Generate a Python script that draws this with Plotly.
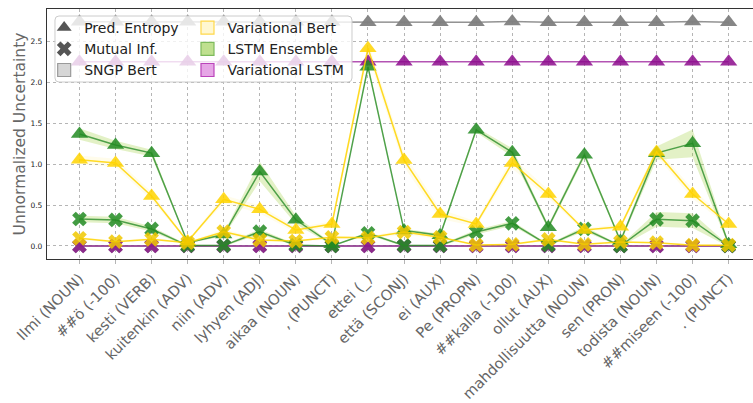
import numpy as np
import plotly.graph_objects as go

categories = ["Ilmi (NOUN)", "##ö (-100)", "kesti (VERB)", "kuitenkin (ADV)", "niin (ADV)",
              "lyhyen (ADJ)", "aikaa (NOUN)", ", (PUNCT)", "ettei (_)", "että (SCONJ)",
              "ei (AUX)", "Pe (PROPN)", "##kalla (-100)", "ollut (AUX)",
              "mahdollisuutta (NOUN)", "sen (PRON)", "todista (NOUN)", "##miseen (-100)", ". (PUNCT)"]

# SNGP Bert
sngp_entropy = [2.74, 2.74, 2.74, 2.74, 2.74, 2.74, 2.74, 2.74, 2.735, 2.735, 2.735, 2.735, 2.745,
                2.735, 2.735, 2.735, 2.735, 2.745, 2.735]
sngp_mi = [0.0, 0.0, 0.0, 0.0, 0.0, 0.0, 0.0, 0.0, 0.0, 0.0, 0.0, 0.0, 0.0, 0.0, 0.0, 0.0, 0.0, 0.0, 0.0]

# Variational LSTM
vlstm_entropy = [2.253, 2.253, 2.253, 2.253, 2.253, 2.253, 2.253, 2.253, 2.253, 2.253, 2.253, 2.253,
                 2.253, 2.253, 2.253, 2.253, 2.253, 2.253, 2.253]
vlstm_mi = [0.0, 0.0, 0.0, 0.0, 0.0, 0.0, 0.0, 0.0, 0.0, 0.0, 0.0, 0.0, 0.0, 0.0, 0.0, 0.0, 0.0, 0.0, 0.0]

# LSTM Ensemble
lstm_entropy = [1.37, 1.235, 1.135, 0.04, 0.14, 0.91, 0.32, 0.02, 2.19, 0.19, 0.13, 1.42, 1.145,
                0.23, 1.115, 0.06, 1.135, 1.255, 0.02]
lstm_entropy_std = [0.07, 0.05, 0.04, 0.01, 0.02, 0.12, 0.05, 0.01, 0.03, 0.02, 0.02, 0.03, 0.05,
                    0.03, 0.04, 0.02, 0.08, 0.17, 0.02]
lstm_mi = [0.33, 0.318, 0.208, 0.005, 0.005, 0.175, 0.01, 0.0, 0.155, 0.005, 0.005, 0.17, 0.277,
           0.01, 0.21, 0.0, 0.326, 0.31, 0.0]
lstm_mi_std = [0.04, 0.04, 0.03, 0.01, 0.01, 0.03, 0.01, 0.0, 0.02, 0.01, 0.01, 0.03, 0.03,
               0.01, 0.03, 0.01, 0.09, 0.09, 0.01]

# Variational Bert
bert_entropy = [1.055, 1.015, 0.611, 0.055, 0.571, 0.448, 0.196, 0.269, 2.417, 1.05, 0.391, 0.269,
                1.015, 0.636, 0.196, 0.236, 1.15, 0.636, 0.269]
bert_entropy_std = [0.05, 0.05, 0.05, 0.01, 0.05, 0.05, 0.03, 0.03, 0.08, 0.08, 0.06, 0.03, 0.07,
                    0.05, 0.02, 0.03, 0.05, 0.06, 0.03]
bert_mi = [0.094, 0.053, 0.082, 0.04, 0.175, 0.073, 0.06, 0.106, 0.1, 0.17, 0.106, 0.012, 0.02,
           0.08, 0.02, 0.05, 0.04, 0.01, 0.01]
bert_mi_std = [0.02, 0.01, 0.02, 0.01, 0.03, 0.02, 0.01, 0.02, 0.02, 0.03, 0.02, 0.01, 0.01,
               0.02, 0.01, 0.01, 0.01, 0.01, 0.01]

fig = go.Figure()


def add_band(mean, std, fillcolor):
    m = np.array(mean)
    s = np.array(std)
    up = m + s
    lo = m - s
    fig.add_trace(go.Scatter(
        x=categories + categories[::-1],
        y=list(up) + list(lo[::-1]),
        fill="toself", fillcolor=fillcolor, line=dict(width=0),
        mode="lines", hoverinfo="skip", showlegend=False))


def add_series(vals, symbol, size, mcolor, mopacity, lcolor):
    fig.add_trace(go.Scatter(
        x=categories, y=vals, mode="lines+markers",
        line=dict(color=lcolor, width=1.5),
        marker=dict(symbol=symbol, size=size, color=mcolor, opacity=mopacity,
                    line=dict(width=0)),
        showlegend=False))


GREEN_BAND = "rgba(154,205,50,0.28)"
YELLOW_BAND = "rgba(255,228,60,0.10)"

add_band(bert_entropy, bert_entropy_std, YELLOW_BAND)
add_band(bert_mi, bert_mi_std, YELLOW_BAND)
add_band(lstm_entropy, lstm_entropy_std, GREEN_BAND)
add_band(lstm_mi, lstm_mi_std, GREEN_BAND)

TRI = 15
XS = 13
# SNGP Bert (gray)
add_series(sngp_entropy, "triangle-up", TRI, "rgb(128,128,128)", 0.95, "rgba(128,128,128,0.85)")
add_series(sngp_mi, "x", XS, "rgb(128,128,128)", 0.9, "rgba(110,110,110,0.9)")
# Variational LSTM (purple)
add_series(vlstm_entropy, "triangle-up", TRI, "rgb(140,10,140)", 0.85, "rgba(160,40,160,0.8)")
add_series(vlstm_mi, "x", XS, "rgb(140,10,140)", 0.75, "rgba(160,40,160,0.8)")
# LSTM Ensemble (green)
add_series(lstm_entropy, "triangle-up", TRI, "rgb(34,139,34)", 0.85, "rgba(40,140,40,0.8)")
add_series(lstm_mi, "x", XS, "rgb(34,139,34)", 0.85, "rgba(40,140,40,0.8)")
# Variational Bert (gold)
add_series(bert_entropy, "triangle-up", TRI, "rgb(255,212,0)", 0.85, "rgba(255,212,0,0.85)")
add_series(bert_mi, "x", XS, "rgb(240,200,0)", 0.85, "rgba(255,212,0,0.85)")

# legend entries
legend_items = [
    ("Pred. Entropy", "triangle-up", "#555555", "#555555", "legend"),
    ("Mutual Inf.", "x", "#555555", "#555555", "legend"),
    ("SNGP Bert", "square", "#d6d6d6", "#9a9a9a", "legend"),
    ("Variational Bert", "square", "#fff7d1", "#ffd84a", "legend2"),
    ("LSTM Ensemble", "square", "#bfe08f", "#7dba5c", "legend2"),
    ("Variational LSTM", "square", "#e6a6e6", "#bb44bb", "legend2"),
]
for name, sym, fc, lc, lg in legend_items:
    fig.add_trace(go.Scatter(
        x=[None], y=[None], mode="markers", name=name, legend=lg,
        marker=dict(symbol=sym, size=13, color=fc, line=dict(color=lc, width=1.2 if sym == "square" else 0))))

# legend frame (rounded, semi-transparent)
x0, x1, y0, y1 = 0.0113, 0.432, 0.708, 0.972
rx, ry = 4 / 706, 4 / 250
path = (f"M {x0+rx},{y0} L {x1-rx},{y0} Q {x1},{y0} {x1},{y0+ry} L {x1},{y1-ry} "
        f"Q {x1},{y1} {x1-rx},{y1} L {x0+rx},{y1} Q {x0},{y1} {x0},{y1-ry} "
        f"L {x0},{y0+ry} Q {x0},{y0} {x0+rx},{y0} Z")
fig.add_shape(type="path", path=path, xref="paper", yref="paper",
              fillcolor="rgba(255,255,255,0.8)", line=dict(color="#cccccc", width=1), layer="above")

leg_common = dict(bgcolor="rgba(0,0,0,0)", borderwidth=0, font=dict(size=14, color="#222222"),
                  yanchor="top", xanchor="left", tracegroupgap=0, itemwidth=30)
fig.update_layout(
    width=753, height=403,
    margin=dict(l=47, r=0, t=9, b=144, autoexpand=False),
    paper_bgcolor="white", plot_bgcolor="white",
    font=dict(family="DejaVu Sans"),
    showlegend=True,
    legend=dict(x=-0.004, y=0.988, **leg_common),
    legend2=dict(x=0.199, y=0.988, **leg_common),
    xaxis=dict(
        range=[-0.9, 18.675], tickangle=-45, automargin=False,
        tickfont=dict(size=14.7, color="#666666"),
        showgrid=True, gridcolor="#b5b5b5", griddash="dot", gridwidth=0.8,
        showline=True, linecolor="#333333", linewidth=1.3, mirror=True,
        ticks="outside", ticklen=4, tickcolor="#b5b5b5", tickwidth=0.8,
    ),
    yaxis=dict(
        range=[-0.159, 2.897], tickvals=[0, 0.5, 1.0, 1.5, 2.0, 2.5], tickformat=".1f",
        automargin=False,
        tickfont=dict(size=7.5, color="#222222"),
        showgrid=True, gridcolor="#b5b5b5", griddash="dot", gridwidth=0.8,
        zeroline=False,
        showline=True, linecolor="#333333", linewidth=1.3, mirror=False,
        ticks="", ticklabelstandoff=2,
        title=dict(text="Unnormalized Uncertainty", font=dict(size=15.5, color="#666666"), standoff=0),
    ),
)

fig.write_html("out.html", config={"displayModeBar": False},
               post_script="document.body.style.margin='0';document.body.style.padding='0';")
